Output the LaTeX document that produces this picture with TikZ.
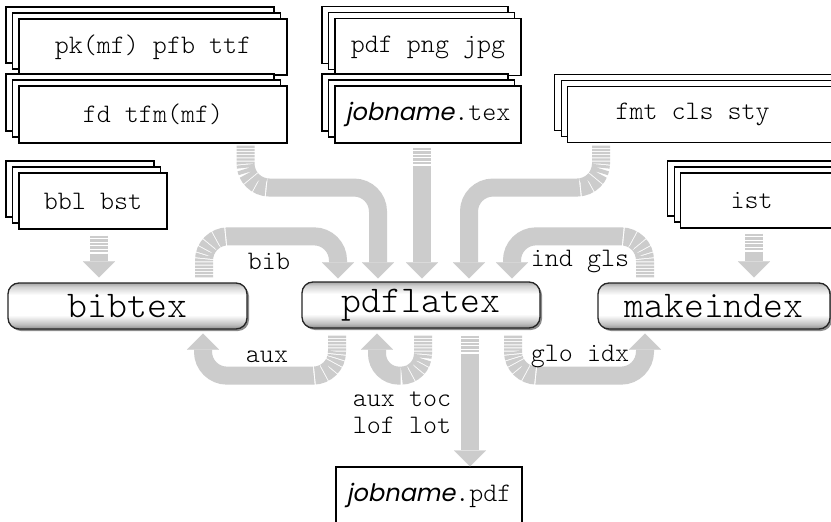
\documentclass[tikz,border=0pt]{standalone}
\usepackage{fontspec}
\setmonofont{Latin Modern Mono Light}
\newfontfamily\jobfont{Poppins}[FakeSlant=0.2, Scale=0.9]
\usetikzlibrary{arrows.meta,shadows}

% glossy look of the program boxes: grey rims, white middle
\pgfdeclareverticalshading{procshade}{100bp}{%
  color(0bp)=(black!45); color(25bp)=(black!45); color(30bp)=(black!25);
  color(40bp)=(white); color(62bp)=(white); color(71bp)=(black!18);
  color(75bp)=(black!35); color(100bp)=(black!35)}

\tikzset{
  filefont/.style={font=\ttfamily\fontsize{26.7}{27}\selectfont},
  filebox/.style={filefont, draw=black, fill=white, line width=1.1pt, inner sep=0pt,
    general shadow={shadow xshift=-13pt, shadow yshift=12pt, fill=white, draw=black, line width=1.1pt},
    general shadow={shadow xshift=-6.5pt, shadow yshift=6pt, fill=white, draw=black, line width=1.1pt}},
  singlebox/.style={filefont, draw=black, fill=white, line width=1.1pt, inner sep=0pt},
  proc/.style={draw=black!85, line width=1.3pt, rounded corners=11pt, shading=procshade,
    font=\ttfamily\fontsize{37.8}{40}\selectfont, minimum height=46pt, inner sep=0pt,
    drop shadow={shadow xshift=2pt, shadow yshift=-2pt, opacity=0.45, fill=black}},
  lbl/.style={filefont, inner sep=0pt},
  flowbase/.style={line width=18pt, color=black!20,
    -{Triangle[width=32pt,length=16pt,line width=0.1pt]}},
  fadebend/.style={flowbase, rounded corners=24pt,
    dash pattern=on 2.2pt off 1pt on 2.2pt off 1pt on 2.2pt off 1pt on 2.2pt off 1pt
      on 2.2pt off 1pt on 2.2pt off 1pt on 3pt off 1pt on 4pt off 1pt on 5.5pt off 1pt
      on 7pt off 1pt on 9pt off 1.2pt on 3000pt off 1pt},
  fadestraight/.style={flowbase,
    dash pattern=on 2.4pt off 1.2pt on 2.4pt off 1.2pt on 2.4pt off 1.2pt on 2.4pt off 1.2pt
      on 2.4pt off 1.2pt on 3000pt off 1pt}
}

\begin{document}
\begin{tikzpicture}[x=1pt, y=-1pt]
\useasboundingbox (0,0) rectangle (831,522);
\fill[white] (0,0) rectangle (831,522);
\clip (0,0) rectangle (831,522);

% input files
\node[filebox, minimum width=268pt, minimum height=56pt] (fonts1) at (153,47) {pk(mf) pfb ttf};
\node[filebox, minimum width=268pt, minimum height=57pt] (fonts2) at (153,114.5) {fd tfm(mf)};
\node[filebox, minimum width=186pt, minimum height=57pt] (img) at (428,47) {pdf png jpg};
\node[filebox, minimum width=186pt, minimum height=57pt] (tex) at (428,114.5) {{\jobfont jobname}.tex};
\node[filebox, anchor=west, minimum height=56pt, inner xsep=48pt] (fmt) at (567,114.5) {\makebox[230pt][l]{fmt cls sty}};
\node[filebox, minimum width=148pt, minimum height=56pt] (bbl) at (93,201) {bbl bst};
\node[filebox, anchor=west, minimum height=55pt, inner xsep=50pt] (ist) at (680,200.5) {\makebox[150pt][l]{ist}};

% programs
\node[proc, minimum width=239pt] (bibtex) at (127.5,306) {bibtex};
\node[proc, minimum width=238pt] (pdflatex) at (421,305) {pdflatex};
\node[proc, minimum width=232pt] (makeindex) at (714,306) {makeindex};

% output
\node[singlebox, minimum width=186pt, minimum height=57pt] (pdf) at (429,495.5) {{\jobfont jobname}.pdf};

% flows into pdflatex
\draw[fadebend] ([xshift=92.5pt,yshift=-2pt]fonts2.south) -- ++(0,42) -| ([xshift=-43pt,yshift=3pt]pdflatex.north);
\draw[fadestraight] ([xshift=-6pt,yshift=-4pt]tex.south) -- ([xshift=1pt,yshift=3pt]pdflatex.north);
\draw[fadebend] ([xshift=34pt,yshift=-2.5pt]fmt.south west) -- ++(0,42) -| ([xshift=48pt,yshift=3pt]pdflatex.north);
\draw[fadebend] ([xshift=76.5pt,yshift=5pt]bibtex.north) -- ++(0,-41) -| ([xshift=-83pt,yshift=3pt]pdflatex.north);
\draw[fadebend] ([xshift=-69pt,yshift=5pt]makeindex.north) -- ++(0,-41) -| ([xshift=91pt,yshift=3pt]pdflatex.north);

% style files into the helpers
\draw[fadestraight] ([xshift=6pt,yshift=-6pt]bbl.south) -- ([xshift=-28.5pt,yshift=5pt]bibtex.north);
\draw[fadestraight] ([xshift=74pt,yshift=-5pt]ist.south west) -- ([xshift=40pt,yshift=5pt]makeindex.north);

% flows out of pdflatex
\draw[fadebend] ([xshift=-84pt,yshift=-7pt]pdflatex.south) -- ++(0,40) -| ([xshift=75.5pt,yshift=-4pt]bibtex.south);
\draw[fadebend, rounded corners=22pt] ([xshift=2pt,yshift=-7pt]pdflatex.south) -- ++(0,40) -| ([xshift=-44pt,yshift=-5pt]pdflatex.south);
\draw[fadestraight] ([xshift=49pt,yshift=-7pt]pdflatex.south) -- ([xshift=41pt]pdf.north);
\draw[fadebend] ([xshift=92pt,yshift=-7pt]pdflatex.south) -- ++(0,40) -| ([xshift=-69pt,yshift=-4pt]makeindex.south);

% labels
\node[lbl] (lbib) at (269,261) {bib};
\node[lbl] (lind) at (580,262) {ind gls};
\node[lbl] (laux) at (267,357) {aux};
\node[lbl] (lglo) at (580,357) {glo idx};
\node[lbl, align=left] (ltoc) at (402,413) {aux toc\\lof lot};
\end{tikzpicture}
\end{document}
